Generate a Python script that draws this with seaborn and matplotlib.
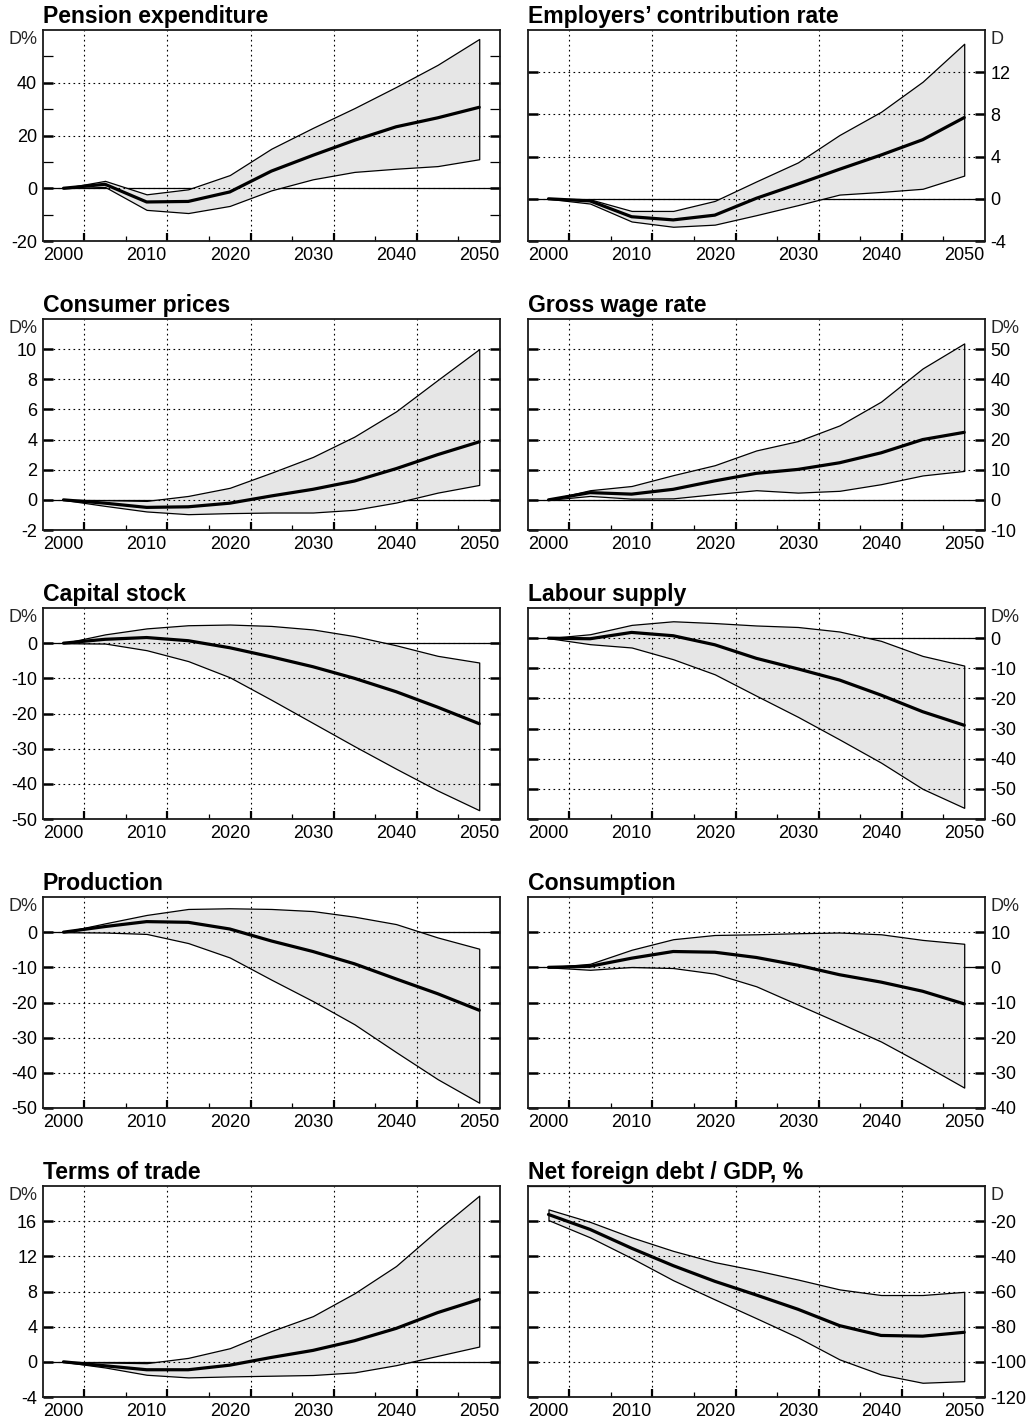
import matplotlib
matplotlib.use("Agg")
import matplotlib.pyplot as plt
import seaborn as sns
import pandas as pd

# ---------------- data ----------------
years = [2000, 2005, 2010, 2015, 2020, 2025, 2030, 2035, 2040, 2045, 2050]

pension_hi = [0, 2.8, -2.3, -0.4, 5.0, 15.0, 22.9, 30.4, 38.4, 46.8, 56.6]
pension_md = [0, 1.5, -5.2, -5.0, -1.4, 6.5, 12.5, 18.2, 23.3, 26.7, 30.7]
pension_lo = [0, 0.5, -8.2, -9.4, -6.7, -0.8, 3.4, 6.2, 7.4, 8.4, 11.0]

employ_hi = [0, -0.05, -1.15, -1.15, -0.2, 1.65, 3.45, 6.05, 8.25, 11.1, 14.7]
employ_md = [0, -0.2, -1.7, -2.0, -1.55, 0.05, 1.4, 2.8, 4.15, 5.6, 7.7]
employ_lo = [0, -0.45, -2.15, -2.65, -2.45, -1.55, -0.6, 0.4, 0.65, 0.95, 2.2]

cpi_hi = [0, -0.02, -0.07, 0.26, 0.8, 1.8, 2.85, 4.2, 5.87, 7.95, 10.0]
cpi_md = [0, -0.22, -0.5, -0.46, -0.22, 0.26, 0.7, 1.25, 2.07, 3.0, 3.85]
cpi_lo = [0, -0.4, -0.77, -0.95, -0.88, -0.84, -0.84, -0.66, -0.18, 0.48, 0.99]

wage_hi = [0, 3.2, 4.6, 8.2, 11.5, 16.4, 19.5, 24.7, 32.6, 43.6, 51.9]
wage_md = [0, 2.4, 1.9, 3.5, 6.3, 8.8, 10.1, 12.3, 15.6, 20.0, 22.4]
wage_lo = [0, 1.3, 0.4, 0.5, 1.9, 3.2, 2.4, 3.0, 5.2, 8.1, 9.6]

capital_hi = [0, 2.5, 4.2, 5.1, 5.3, 4.9, 3.9, 2.0, -0.6, -3.6, -5.5]
capital_md = [0, 1.1, 1.6, 0.7, -1.3, -3.9, -6.7, -10.0, -13.8, -18.2, -22.9]
capital_lo = [0, -0.1, -2.0, -5.1, -9.7, -16.1, -22.7, -29.3, -35.7, -41.9, -47.5]

labour_hi = [0, 1.3, 4.4, 5.6, 5.0, 4.2, 3.7, 2.2, -0.9, -5.9, -9.1]
labour_md = [0, -0.2, 1.9, 0.8, -2.2, -6.7, -10.2, -13.9, -18.9, -24.4, -28.9]
labour_lo = [0, -2.0, -3.1, -7.0, -12.0, -19.1, -26.1, -33.6, -41.3, -50.0, -56.3]

prod_hi = [0, 2.5, 4.9, 6.6, 6.8, 6.6, 6.0, 4.4, 2.3, -1.5, -4.7]
prod_md = [0, 1.6, 3.0, 2.8, 0.9, -2.5, -5.5, -9.0, -13.3, -17.5, -22.2]
prod_lo = [0, -0.1, -0.5, -3.1, -7.2, -13.5, -19.6, -26.2, -34.1, -41.8, -48.5]

cons_hi = [0, 1.0, 5.0, 8.0, 9.2, 9.4, 9.7, 9.9, 9.4, 7.8, 6.7]
cons_md = [0, 0.3, 2.6, 4.5, 4.3, 2.8, 0.6, -2.1, -4.2, -6.8, -10.4]
cons_lo = [0, -0.7, 0.1, -0.2, -1.8, -5.4, -10.6, -15.8, -21.1, -27.5, -34.2]

tot_hi = [0, -0.08, -0.15, 0.45, 1.55, 3.5, 5.2, 7.8, 10.9, 15.0, 18.9]
tot_md = [0, -0.45, -0.9, -0.9, -0.38, 0.5, 1.3, 2.4, 3.8, 5.6, 7.1]
tot_lo = [0, -0.64, -1.47, -1.77, -1.66, -1.58, -1.5, -1.2, -0.38, 0.68, 1.74]

debt_hi = [-13.3, -20.4, -29.2, -36.9, -43.3, -48.0, -53.2, -58.8, -62.0, -62.0, -60.2]
debt_md = [-16.2, -24.7, -35.4, -45.3, -54.2, -62.0, -70.1, -79.4, -85.0, -85.4, -83.2]
debt_lo = [-19.4, -29.2, -41.0, -53.6, -64.5, -75.2, -86.1, -98.6, -107.2, -111.9, -111.0]

titles = ["Pension expenditure", "Employers\u2019 contribution rate",
          "Consumer prices", "Gross wage rate",
          "Capital stock", "Labour supply",
          "Production", "Consumption",
          "Terms of trade", "Net foreign debt / GDP, %"]
units = ["D%", "D", "D%", "D%", "D%", "D%", "D%", "D%", "D%", "D"]
highs = [pension_hi, employ_hi, cpi_hi, wage_hi, capital_hi, labour_hi, prod_hi, cons_hi, tot_hi, debt_hi]
meds = [pension_md, employ_md, cpi_md, wage_md, capital_md, labour_md, prod_md, cons_md, tot_md, debt_md]
lows = [pension_lo, employ_lo, cpi_lo, wage_lo, capital_lo, labour_lo, prod_lo, cons_lo, tot_lo, debt_lo]
ylims = [(-20, 60), (-4, 16), (-2, 12), (-10, 60), (-50, 10),
         (-60, 10), (-50, 10), (-40, 20), (-4, 20), (-120, 0)]
yticks = [[-20, 0, 20, 40], [-4, 0, 4, 8, 12], [-2, 0, 2, 4, 6, 8, 10],
          [-10, 0, 10, 20, 30, 40, 50], [-50, -40, -30, -20, -10, 0],
          [-60, -50, -40, -30, -20, -10, 0], [-50, -40, -30, -20, -10, 0],
          [-40, -30, -20, -10, 0, 10], [-4, 0, 4, 8, 12, 16],
          [-120, -100, -80, -60, -40, -20]]
yminor = [[-10, 10, 30, 50], [], [], [], [], [], [], [], [], []]

xlabels = [2000, 2010, 2020, 2030, 2040, 2050]
xgrid = [2002.5, 2012.5, 2022.5, 2032.5, 2042.5]
xminor = [2007.5, 2017.5, 2027.5, 2037.5, 2047.5]

# ---------------- style ----------------
sns.set_theme(style="ticks")
plt.rcParams["font.family"] = ["Liberation Sans", "DejaVu Sans"]

W, H = 1030, 1423
fig = plt.figure(figsize=(W / 100, H / 100), dpi=100)

col_left = [42.7, 527.7]
ax_w = 457.3
ax_h = 211
row_top = [30 + 289 * i for i in range(5)]

band_col = "#e6e6e6"
fs_tick = 13

for i in range(10):
    r, c = divmod(i, 2)
    ax = fig.add_axes([col_left[c] / W, 1 - (row_top[r] + ax_h) / H, ax_w / W, ax_h / H])
    df = pd.DataFrame({"year": years, "lo": lows[i], "md": meds[i], "hi": highs[i]})

    ax.axhline(0, color="black", lw=0.9, zorder=0.9)
    ax.fill_between(df["year"], df["lo"], df["hi"], facecolor=band_col,
                    edgecolor="black", linewidth=0.9, zorder=1)
    sns.lineplot(data=df, x="year", y="md", ax=ax, color="black", lw=2.3, zorder=3)

    ax.set_xlim(1997.5, 2052.5)
    ax.set_ylim(*ylims[i])
    ax.set_xlabel("")
    ax.set_ylabel("")

    # x ticks: thick at grid positions, thin in between, labels on a secondary axis
    ax.set_xticks(xgrid)
    ax.set_xticks(xminor, minor=True)
    ax.tick_params(axis="x", which="both", direction="in", labelbottom=False, top=False)
    ax.tick_params(axis="x", which="major", length=6, width=1.6, color="black")
    ax.tick_params(axis="x", which="minor", length=3.8, width=0.9, color="black")

    sec = ax.secondary_xaxis("bottom")
    sec.set_xticks(xlabels)
    sec.set_xticklabels([str(v) for v in xlabels])
    sec.tick_params(length=0, pad=4, labelsize=fs_tick, labelcolor="black")
    for s in sec.spines.values():
        s.set_visible(False)

    # y ticks
    ax.set_yticks(yticks[i])
    ax.set_yticks(yminor[i], minor=True)
    ax.set_yticklabels([str(v) for v in yticks[i]])
    ax.tick_params(axis="y", which="both", direction="in", left=True, right=True,
                   labelleft=(c == 0), labelright=(c == 1), labelsize=fs_tick,
                   labelcolor="black", pad=4)
    ax.tick_params(axis="y", which="major", length=7, width=1.8, color="black")
    ax.tick_params(axis="y", which="minor", length=7, width=0.9, color="black")

    # grid
    ax.set_axisbelow("line")
    ax.grid(True, which="major", color="black", lw=0.8, linestyle=(0, (1.5, 3)))

    for s in ax.spines.values():
        s.set_visible(True)
        s.set_color("#1a1a1a")
        s.set_linewidth(1.3)

    ax.set_title(titles[i], loc="left", fontsize=16.6, fontweight="bold", pad=5, color="black")

    if c == 0:
        ax.annotate(units[i], xy=(0, 1), xycoords="axes fraction", xytext=(-4, -1),
                    textcoords="offset points", ha="right", va="top", fontsize=fs_tick)
    else:
        ax.annotate(units[i], xy=(1, 1), xycoords="axes fraction", xytext=(4, -1),
                    textcoords="offset points", ha="left", va="top", fontsize=fs_tick)

fig.savefig("out.png", dpi=100)
